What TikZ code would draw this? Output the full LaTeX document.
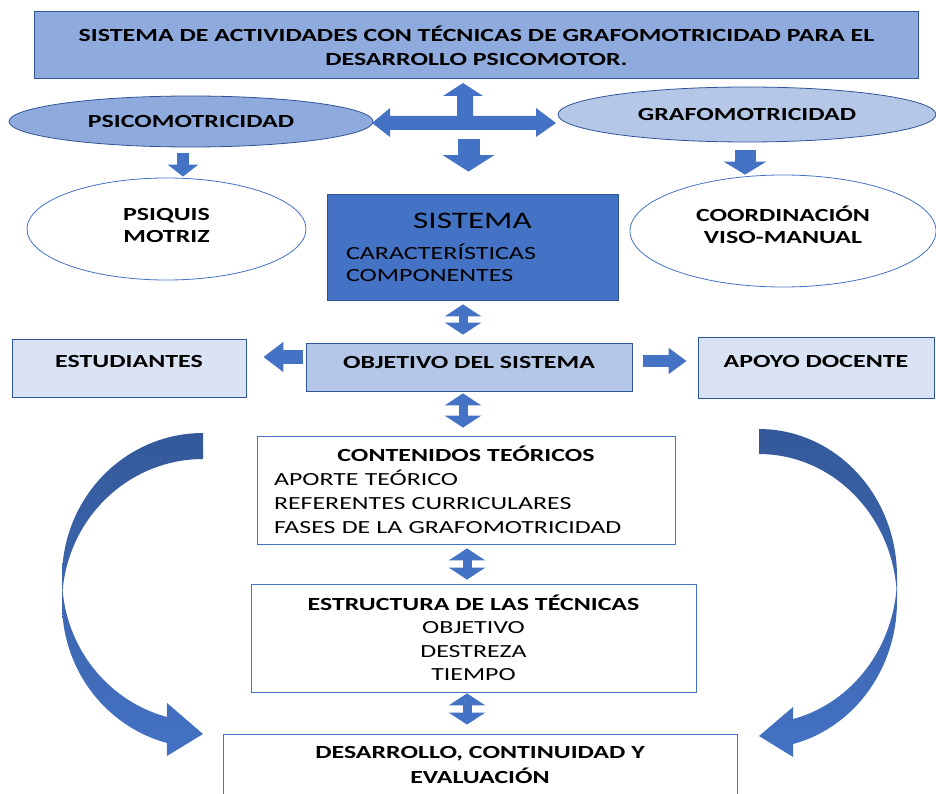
\documentclass[tikz,border=0pt]{standalone}
\usepackage{fontspec}
\setmainfont{Carlito}[FakeStretch=1.4]
\usepackage{xcolor}
\usetikzlibrary{shapes.geometric, arrows.meta}

\definecolor{azulosc}{HTML}{2F5597}
\definecolor{azul}{HTML}{4472C4}
\definecolor{celeste}{HTML}{8FAADC}
\definecolor{celclaro}{HTML}{B4C7E7}
\definecolor{palido}{HTML}{DAE3F3}
\definecolor{sombra}{HTML}{34599A}

\tikzstyle{caja} = [rectangle, draw=azulosc, line width=0.8pt, inner sep=0pt, align=center, font=\fontsize{18.5}{24}\selectfont\bfseries]
\tikzstyle{ovalo} = [ellipse, draw=azulosc, line width=0.8pt, inner sep=0pt, align=center, font=\fontsize{18.5}{22}\selectfont\bfseries]
\tikzstyle{doble} = [color=azul, line width=9pt, {Triangle[length=12pt,width=36pt]}-{Triangle[length=12pt,width=36pt]}]
\tikzstyle{bloque} = [color=azul]

\begin{document}
\begin{tikzpicture}[x=1pt, y=-1pt]
            \useasboundingbox (0,0) rectangle (936,794);
            \clip (0,0) rectangle (936,794);

            \shade[top color=sombra, bottom color=azul]
                plot[domain=270:180, samples=40] ({203+141*cos(\x)}, {577.4+144.4*sin(\x)})
                -- plot[domain=180:104.8, samples=30] ({203+141*cos(\x)}, {603.4+144.4*sin(\x)})
                -- (167,756) -- (203,734) -- (167,703)
                -- plot[domain=104.8:180, samples=30] ({203+141*cos(\x)}, {577.4+144.4*sin(\x)})
                -- plot[domain=180:270, samples=40] ({203+141*cos(\x)}, {603.4+144.4*sin(\x)})
                -- cycle;
            \shade[top color=sombra, bottom color=azul]
                plot[domain=270:360, samples=40] ({759+138*cos(\x)}, {576.3+147.3*sin(\x)})
                -- plot[domain=0:75.7, samples=30] ({759+138*cos(\x)}, {601.3+147.3*sin(\x)})
                -- (793,757) -- (759,736) -- (793,707)
                -- plot[domain=75.7:0, samples=30] ({759+138*cos(\x)}, {576.3+147.3*sin(\x)})
                -- plot[domain=360:270, samples=40] ({759+138*cos(\x)}, {601.3+147.3*sin(\x)})
                -- cycle;

            \node[caja, fill=celeste, minimum width=884pt, minimum height=67pt] (titulo) at (476.5,45.3) {SISTEMA DE ACTIVIDADES CON TÉCNICAS DE GRAFOMOTRICIDAD PARA EL\\DESARROLLO PSICOMOTOR.};
            \node[ovalo, fill=celeste, minimum width=364pt, minimum height=51pt] (psico) at (191,121.5) {PSICOMOTRICIDAD};
            \node[ovalo, fill=celclaro, minimum width=378pt, minimum height=55pt] (grafo) at (747,114.5) {GRAFOMOTRICIDAD};
            \node[ovalo, draw=azul, fill=white, minimum width=279pt, minimum height=102pt, text depth=7pt] (psiq) at (166.5,229) {PSIQUIS\\MOTRIZ};
            \node[ovalo, draw=azul, fill=white, minimum width=306pt, minimum height=112pt, text depth=13pt] (coord) at (783,231) {COORDINACIÓN\\VISO-MANUAL};

            \node[caja, fill=azul, minimum width=291pt, minimum height=106pt, text width=253pt, align=left, font=\fontsize{18.6}{22}\selectfont] (sis) at (472.5,247) {\vspace*{5pt}{\centering\fontsize{23.7}{26}\selectfont SISTEMA\par}\vspace{4pt}CARACTERÍSTICAS\\COMPONENTES};

            \node[caja, fill=palido, minimum width=234pt, minimum height=58pt, text height=12pt, text depth=14pt] (est) at (129,368) {ESTUDIANTES};
            \node[caja, fill=celclaro, minimum width=326pt, minimum height=48pt, text height=12pt, text depth=9pt] (obj) at (469,367) {OBJETIVO DEL SISTEMA};
            \node[caja, fill=palido, minimum width=236pt, minimum height=61pt, text height=12pt, text depth=12pt] (apoyo) at (816,367.5) {APOYO DOCENTE};

            \node[caja, draw=azul, fill=white, minimum width=418pt, minimum height=108pt, text width=384pt, align=left, font=\fontsize{18.5}{24}\selectfont] (cont) at (466,490) {{\centering\bfseries CONTENIDOS TEÓRICOS\par}APORTE TEÓRICO\\REFERENTES CURRICULARES\\FASES DE LA GRAFOMOTRICIDAD};
            \node[caja, draw=azul, fill=white, minimum width=445pt, minimum height=108pt, font=\fontsize{18.5}{23.5}\selectfont] (estr) at (473.5,638) {\textbf{ESTRUCTURA DE LAS TÉCNICAS}\\OBJETIVO\\DESTREZA\\TIEMPO};
            \node[caja, draw=azul, fill=white, minimum width=514pt, minimum height=62pt, font=\fontsize{18.5}{25}\selectfont\bfseries] (des) at (480,765) {DESARROLLO, CONTINUIDAD Y\\EVALUACIÓN};

            \coordinate (ejeA) at (463,0);
            \coordinate (ejeB) at (467,0);
            \coordinate (ejeP) at (183,0);
            \coordinate (ejeG) at (745,0);
            \coordinate (baja) at (468.5,139);
            \coordinate (izq) at ([yshift=10pt]obj.west);
            \coordinate (der) at ([yshift=6pt]obj.east);

            \fill[bloque] (463,83) -- (483,96) -- (473,96) -- (473,116) -- (536,116) -- (536,108) -- (556,123) -- (536,137) -- (536,130) -- (390,130) -- (390,137) -- (372,123) -- (390,108) -- (390,116) -- (457,116) -- (457,96) -- (443,96) -- cycle;
            \draw[bloque, line width=22pt, -{Triangle[length=16.5pt,width=51pt]}, shorten >=22pt] (baja) -- (baja |- sis.north);

            \draw[bloque, line width=12pt, -{Triangle[length=12pt,width=30pt]}, shorten <=6pt, shorten >=1pt] (psico.south -| ejeP) -- (psiq.north -| ejeP);
            \draw[bloque, line width=21pt, -{Triangle[length=13pt,width=42pt]}, shorten <=8pt] (grafo.south -| ejeG) -- (coord.north -| ejeG);

            \draw[doble, shorten <=4pt, shorten >=8pt] (sis.south -| ejeA) -- (obj.north -| ejeA);
            \draw[bloque, line width=14pt, -{Triangle[length=20pt,width=29pt]}, shorten <=3pt, shorten >=17pt] (izq) -- (izq -| est.east);
            \draw[bloque, line width=12pt, -{Triangle[length=18pt,width=25pt]}, shorten <=11pt, shorten >=11pt] (der) -- (der -| apoyo.west);
            \draw[doble, shorten <=2pt, shorten >=8pt] (obj.south -| ejeA) -- (cont.north -| ejeA);
            \draw[doble, shorten <=4pt, shorten >=4pt] (cont.south -| ejeB) -- (estr.north -| ejeB);
            \draw[doble, shorten <=1pt, shorten >=9pt] (estr.south -| ejeB) -- (des.north -| ejeB);
        \end{tikzpicture}
\end{document}
